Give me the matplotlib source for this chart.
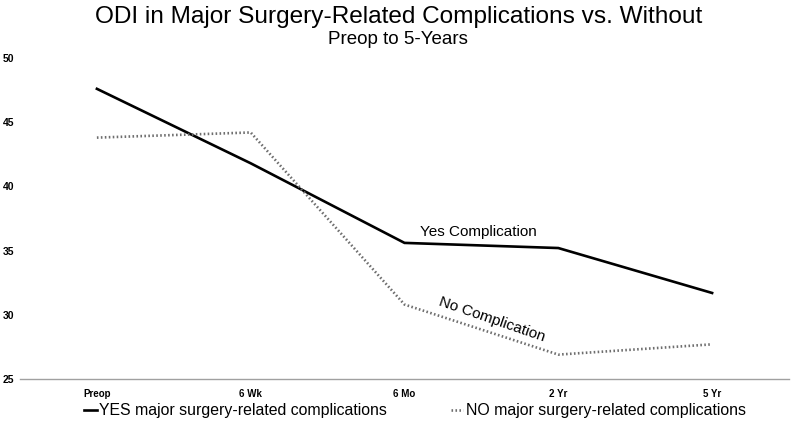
import matplotlib.pyplot as plt

plt.rcParams['font.family'] = ['Liberation Sans', 'DejaVu Sans']

timepoints = ["Preop", "6 Wk", "6 Mo", "2 Yr", "5 Yr"]
yes_odi = [47.6, 41.8, 35.6, 35.2, 31.7]
no_odi = [43.8, 44.2, 30.8, 26.9, 27.7]
yticks = [25, 30, 35, 40, 45, 50]

f = plt.figure(figsize=(7.92, 4.24), dpi=100)
ax = f.add_axes([20 / 792, 1 - 379 / 424, 769 / 792, 321 / 424])

x = range(len(timepoints))
ax.plot(x, yes_odi, color="black", lw=1.9, solid_joinstyle="miter",
        label="YES major surgery-related complications")
ax.plot(x, no_odi, color="#6e6e6e", lw=1.9, ls=(0, (0.6, 0.9)),
        label="NO major surgery-related complications")

ax.set_xlim(-0.5, len(timepoints) - 0.5)
ax.set_ylim(25, 50)
ax.set_xticks(list(x))
ax.set_xticklabels(timepoints, fontsize=7, fontweight="bold")
ax.set_yticks(yticks)
ax.set_yticklabels([str(v) for v in yticks], fontsize=7.5, fontweight="bold")
ax.tick_params(length=0)
ax.tick_params(axis="y", pad=4)
ax.tick_params(axis="x", pad=7)
for s in ["top", "right", "left"]:
    ax.spines[s].set_visible(False)
ax.spines["bottom"].set_color("#a0a0a0")
ax.spines["bottom"].set_linewidth(1.0)

ax.text(2.48, 35.9, "Yes Complication", fontsize=11, ha="center", va="bottom")
ax.text(2.57, 29.6, "No Complication", fontsize=11, ha="center", va="center",
        rotation=-19, rotation_mode="anchor")

f.text(0.503, 1 - 17 / 424, "ODI in Major Surgery-Related Complications vs. Without",
       fontsize=17.6, ha="center", va="center")
f.text(0.503, 1 - 39 / 424, "Preop to 5-Years", fontsize=13.5, ha="center", va="center")

f.legend(loc="center", bbox_to_anchor=(0.524, 1 - 411 / 424), ncol=2, frameon=False,
         fontsize=11.4, handlelength=0.8, handletextpad=0.15, columnspacing=4.0)

f.savefig("out.png", dpi=100)
